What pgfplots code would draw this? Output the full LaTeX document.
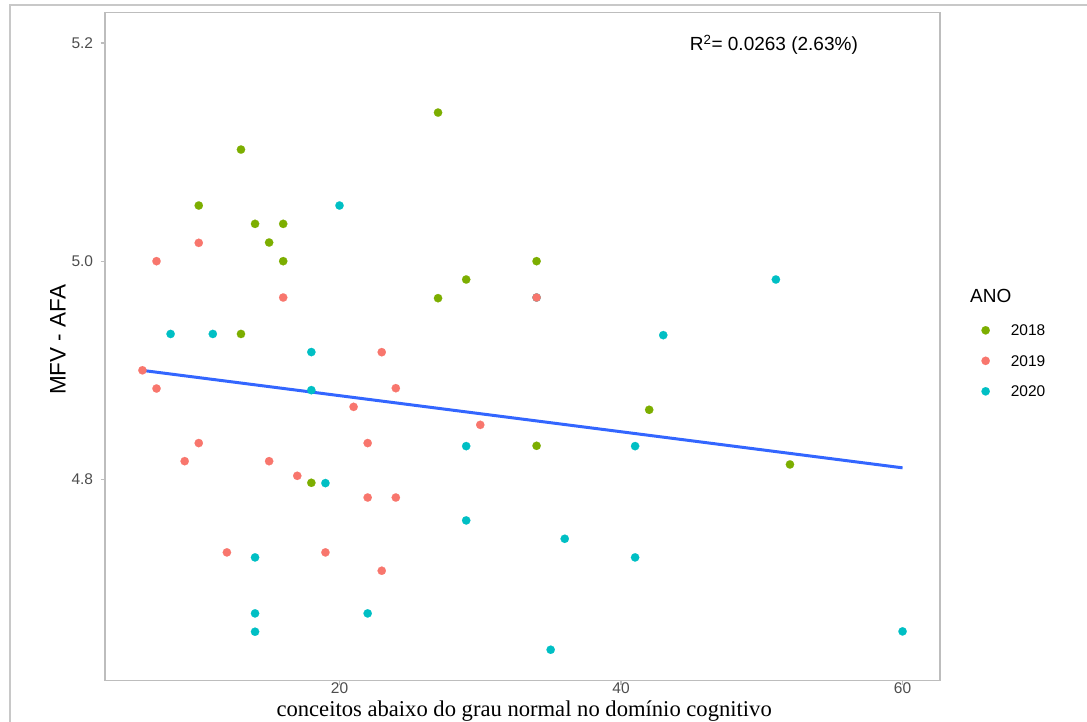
\documentclass[border=0pt]{standalone}
\usepackage{fontspec}
\setmainfont{Liberation Sans}
\newfontfamily\serifx{Liberation Serif}
\usepackage{pgfplots}
\pgfplotsset{compat=1.18}
\definecolor{c18}{HTML}{7CAE00}
\definecolor{c19}{HTML}{F8766D}
\definecolor{c20}{HTML}{00BFC4}
\definecolor{fitblue}{HTML}{3366FF}
\definecolor{tickgray}{HTML}{4D4D4D}
\definecolor{panelgray}{HTML}{BDBDBD}
\definecolor{framegray}{HTML}{C8C8C8}
\pgfplotsset{
  pt18/.style={forget plot, only marks, mark=*, mark size=4.2pt, color=c18, mark options={solid, draw=c18, fill=c18, line width=0.1pt}},
  pt19/.style={forget plot, only marks, mark=*, mark size=4.2pt, color=c19, mark options={solid, draw=c19, fill=c19, line width=0.1pt}},
  pt20/.style={forget plot, only marks, mark=*, mark size=4.2pt, color=c20, mark options={solid, draw=c20, fill=c20, line width=0.1pt}},
}
\begin{document}
\begin{tikzpicture}
\useasboundingbox (0,0) rectangle (1087pt,721pt);
\draw[framegray, line width=2.2pt] (10pt,-3pt) -- (10pt,716pt) -- (1090pt,716pt);
\begin{axis}[
  at={(105pt,40.5pt)}, anchor=south west,
  scale only axis, width=835pt, height=668pt,
  xmin=3.34, xmax=62.66, ymin=4.6157, ymax=5.2279,
  xtick={20,40,60}, xticklabels={20,40,60},
  ytick={4.8,5.0,5.2}, yticklabels={4.8,5.0,5.2},
  xtick pos=bottom, ytick pos=left,
  tick align=outside, major tick length=4.4pt,
  tick style={color=panelgray, line width=1.2pt},
  axis line style={color=panelgray, line width=1.8pt},
  /pgf/number format/assume math mode=true,
  ticklabel style={font=\fontsize{15.5}{17}\selectfont, text=tickgray},
  yticklabel style={xshift=-4pt},
  xticklabel style={yshift=3pt, inner sep=1pt, text depth=0pt},
  clip=false,
  xlabel={\serifx conceitos abaixo do grau normal no domínio cognitivo},
  xlabel style={at={(axis description cs:0.502,-0.0546)}, anchor=base, inner sep=0pt, font=\fontsize{22.6}{25}\selectfont},
  ylabel={MFV - AFA},
  ylabel style={at={(axis description cs:-0.0563,0.51)}, anchor=center, inner sep=0pt, font=\fontsize{22.5}{24}\selectfont},
  legend style={draw=none, fill=none, inner sep=0pt, outer sep=0pt,
    at={(1.0496,0.5323)}, anchor=north west,
    font=\fontsize{15.5}{17}\selectfont, row sep=19.7pt, column sep=21pt,
    nodes={inner sep=0pt, text height=10.8pt, text depth=0pt}},
  legend cell align=left,
  legend image code/.code={\draw plot coordinates {(0pt,0pt)};},
]
\addlegendimage{pt18}
\addlegendentry{2018}
\addlegendimage{pt19}
\addlegendentry{2019}
\addlegendimage{pt20}
\addlegendentry{2020}
% 2018
\addplot[pt18] coordinates {
(27,5.1362) (13,5.1023) (10,5.0510) (14,5.0342) (16,5.0342) (15,5.0171)
(16,5.0000) (34,5.0000) (29,4.9832) (27,4.9661) (13,4.9333) (42,4.8638)
(34,4.8308) (18,4.7969) (52,4.8137)};
% 2020
\addplot[pt20] coordinates {
(8,4.9333) (11,4.9333) (18,4.9167) (18,4.8818) (20,5.0510) (19,4.7966)
(29,4.8305) (29,4.7624) (36,4.7456) (41,4.8305) (41,4.7285) (43,4.9322)
(51,4.9832) (14,4.7285) (14,4.6772) (14,4.6604) (22,4.6772) (35,4.6439)
(60,4.6607) (34,4.9667)};
% 2019
\addplot[pt19] coordinates {
(6,4.9000) (7,4.8833) (7,5.0000) (10,5.0168) (16,4.9667) (10,4.8333)
(9,4.8167) (15,4.8167) (17,4.8033) (21,4.8665) (23,4.9166) (24,4.8836)
(22,4.8333) (22,4.7834) (24,4.7834) (30,4.8500) (34,4.9667) (12,4.7331)
(19,4.7331) (23,4.7163)};
% linear fit
\addplot[forget plot, color=fitblue, line width=3pt] coordinates {(6,4.8999) (60,4.8106)};
\node[anchor=base, font=\fontsize{19}{21}\selectfont, text=black] at (axis cs:50.86,5.1927) {R\textsuperscript{2}= 0.0263 (2.63\%)};
\end{axis}
\node[anchor=base west, inner sep=0pt, font=\fontsize{19}{21}\selectfont] at (970pt,418.7pt) {ANO};
\end{tikzpicture}
\end{document}
